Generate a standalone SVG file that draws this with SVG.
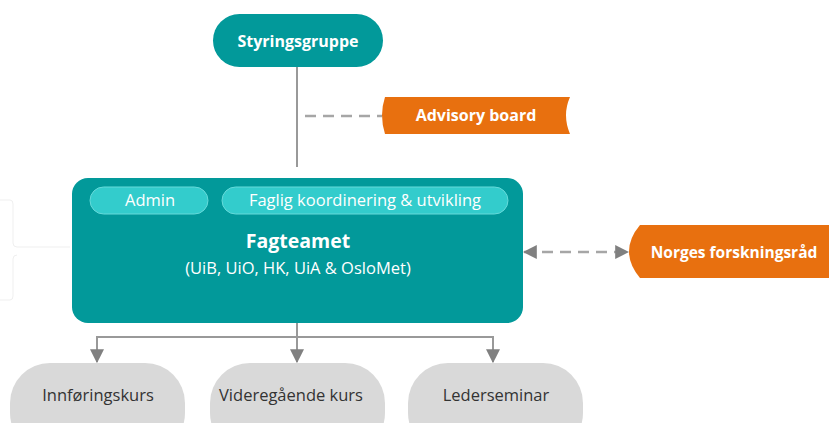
<svg xmlns="http://www.w3.org/2000/svg" width="829" height="423" viewBox="0 0 829 423">
<style>
.teal{fill:#02999A}
.orange{fill:#E8700F}
.gray{fill:#D9D9D9}
.sub{fill:#33CCCC;stroke:#66DADA;stroke-width:1}
.tw{font-family:"Open Sans","Liberation Sans",sans-serif;fill:#fff;text-anchor:middle}
.tb{font-family:"Open Sans","Liberation Sans",sans-serif;fill:#333;text-anchor:middle;font-size:16.5px}
.line{stroke:#999;stroke-width:2;fill:none}
.dash{stroke:#A6A6A6;stroke-width:2.5;fill:none;stroke-dasharray:11 7}
.faint{stroke:#EFEFEF;stroke-width:1;fill:none}
</style>
<defs>
<marker id="ab" viewBox="0 0 12 12" refX="11" refY="6" markerWidth="14" markerHeight="14" orient="auto" markerUnits="userSpaceOnUse">
<path d="M0,0 L12,6 L0,12 z" fill="#808080"/>
</marker>
<marker id="ad" viewBox="0 0 12 12" refX="11" refY="6" markerWidth="14" markerHeight="14" orient="auto-start-reverse" markerUnits="userSpaceOnUse">
<path d="M0,0 L12,6 L0,12 z" fill="#808080"/>
</marker>
</defs>
<g id="faint-left">
<path class="faint" d="M0,200 H10 Q13,200 13,204 V243 Q13,247 17,247 H70 M17,255 Q13,255 13,259 V296 Q13,300 10,300 H0"/>
</g>
<g id="connectors">
<line class="line" x1="297" y1="67" x2="297" y2="167"/>
<line class="dash" x1="305" y1="116" x2="382" y2="116"/>
<line class="dash" x1="524" y1="252" x2="628" y2="252" marker-start="url(#ad)" marker-end="url(#ad)"/>
<line class="line" x1="297" y1="323" x2="297" y2="362" marker-end="url(#ab)"/>
<line class="line" x1="96" y1="337" x2="494" y2="337"/>
<path class="line" d="M97,337 V362" marker-end="url(#ab)"/>
<path class="line" d="M493,337 V362" marker-end="url(#ab)"/>
</g>
<g id="styringsgruppe">
<rect class="teal" x="213" y="14" width="170" height="53" rx="26.5"/>
<text class="tw" x="298" y="47" font-size="16" font-weight="bold">Styringsgruppe</text>
</g>
<g id="advisory-board">
<path class="orange" d="M385,97 H570 Q562,115 570,134 H385 Q379,115 385,97 z"/>
<text class="tw" x="476" y="121" font-size="16" font-weight="bold">Advisory board</text>
</g>
<g id="fagteamet">
<rect class="teal" x="72" y="178" width="451" height="145" rx="16"/>
<text class="tw" x="298" y="248" font-size="19.5" font-weight="bold">Fagteamet</text>
<text class="tw" x="298" y="274" font-size="16.5">(UiB, UiO, HK, UiA &amp; OsloMet)</text>
</g>
<g id="admin">
<rect class="sub" x="90" y="187" width="118" height="27" rx="13.5"/>
<text class="tw" x="150" y="206" font-size="16.5">Admin</text>
</g>
<g id="faglig">
<rect class="sub" x="222" y="187" width="286" height="27" rx="13.5"/>
<text class="tw" x="365" y="206" font-size="16.5">Faglig koordinering &amp; utvikling</text>
</g>
<g id="norges-forskningsrad">
<path class="orange" d="M640,225 H829 V278 H640 Q629,265 629,251.5 Q629,238 640,225 z"/>
<text class="tw" x="734" y="258" font-size="15.5" font-weight="bold">Norges forskningsråd</text>
</g>
<g id="innforingskurs">
<rect class="gray" x="10" y="363" width="175" height="90" rx="40"/>
<text class="tb" x="98" y="401">Innføringskurs</text>
</g>
<g id="videregaende">
<rect class="gray" x="210" y="363" width="175" height="90" rx="40"/>
<text class="tb" x="291" y="401" font-size="17.5">Videregående kurs</text>
</g>
<g id="lederseminar">
<rect class="gray" x="408" y="363" width="175" height="90" rx="40"/>
<text class="tb" x="496" y="401">Lederseminar</text>
</g>
</svg>
